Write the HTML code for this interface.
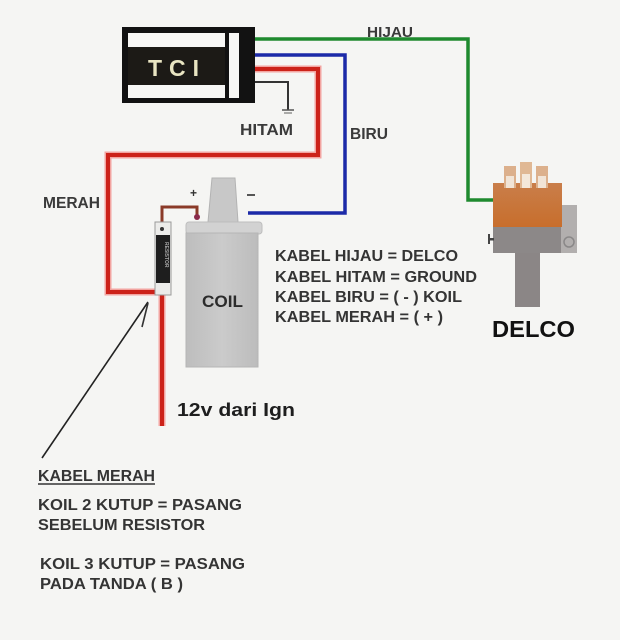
<!DOCTYPE html>
<html><head><meta charset="utf-8"><style>
html,body{margin:0;padding:0;background:#f5f5f3;}
svg{display:block;}
text{font-family:"Liberation Sans",Arial,sans-serif;font-weight:bold;}
</style></head><body>
<svg width="620" height="640" viewBox="0 0 620 640" xmlns="http://www.w3.org/2000/svg">
<rect width="620" height="640" fill="#f5f5f3"/>
<defs>
<linearGradient id="cap" x1="0" y1="0" x2="0" y2="1">
<stop offset="0" stop-color="#c97e4a"/><stop offset="1" stop-color="#c86e2c"/>
</linearGradient>
<linearGradient id="coil" x1="0" y1="0" x2="1" y2="0">
<stop offset="0" stop-color="#bdbdbd"/><stop offset="0.5" stop-color="#cbcbcb"/><stop offset="1" stop-color="#bcbcbc"/>
</linearGradient>
</defs>

<!-- green wire -->
<polyline points="255,39 468,39 468,200 496,200" fill="none" stroke="#1e8a2e" stroke-width="3.5"/>
<!-- blue wire -->
<polyline points="255,55 345,55 345,213 248,213" fill="none" stroke="#1c2aa8" stroke-width="3.5"/>
<!-- red wire -->
<polyline points="255,69 318,69 318,155 108,155 108,292 162,292 162,426" fill="none" stroke="#f2a4a0" stroke-width="7"/>
<polyline points="255,69 318,69 318,155 108,155 108,292 162,292 162,426" fill="none" stroke="#cc2219" stroke-width="4"/>
<!-- black ground wire -->
<polyline points="255,82 288,82 288,110" fill="none" stroke="#333" stroke-width="2"/>
<line x1="282" y1="110" x2="294" y2="110" stroke="#555" stroke-width="1.5"/>
<line x1="284" y1="113" x2="292" y2="113" stroke="#777" stroke-width="1.2"/>

<!-- TCI box -->
<rect x="122" y="27" width="133" height="76" fill="#121212"/>
<rect x="128" y="33" width="97" height="14" fill="#f7f7f5"/>
<rect x="128" y="85" width="97" height="13" fill="#f7f7f5"/>
<rect x="229" y="33" width="10" height="65" fill="#f7f7f5"/>
<rect x="128" y="47" width="97" height="38" fill="#1c1a16"/>
<text x="148" y="76" font-size="23" fill="#e9e5c2" letter-spacing="7">TCI</text>

<!-- HIJAU / HITAM / BIRU / MERAH labels -->
<text x="367" y="37" font-size="15" fill="#3a3a3a" textLength="46" lengthAdjust="spacingAndGlyphs">HIJAU</text>
<text x="240" y="135" font-size="16" fill="#3a3a3a" textLength="53" lengthAdjust="spacingAndGlyphs">HITAM</text>
<text x="350" y="139" font-size="15.5" fill="#3a3a3a" textLength="38" lengthAdjust="spacingAndGlyphs">BIRU</text>
<text x="43" y="208" font-size="15.5" fill="#3a3a3a" textLength="57" lengthAdjust="spacingAndGlyphs">MERAH</text>

<!-- resistor -->
<polyline points="162,228 162,207 197,207 197,217" fill="none" stroke="#8a3a28" stroke-width="3"/>
<rect x="155" y="222" width="16" height="73" fill="#ececea" stroke="#9a9a9a" stroke-width="1"/>
<rect x="156" y="235" width="14" height="48" fill="#1e1e1e"/>
<circle cx="162" cy="229" r="2" fill="#333"/>
<text x="0" y="0" font-size="5" fill="#aaa" transform="translate(165,242) rotate(90)">RESISTOR</text>

<!-- coil -->
<path d="M212,178 L235,178 L238,222 L208,222 Z" fill="#c8c8c8" stroke="#b3b3b3" stroke-width="1"/>
<rect x="186" y="222" width="76" height="12" rx="3" fill="#d2d2d2" stroke="#bdbdbd" stroke-width="1"/>
<rect x="186" y="233" width="72" height="134" fill="url(#coil)" stroke="#b5b5b5" stroke-width="1"/>
<circle cx="197" cy="217" r="3" fill="#8a2a4a"/>
<text x="202" y="307" font-size="17" fill="#2c2c2c" textLength="41" lengthAdjust="spacingAndGlyphs">COIL</text>
<text x="190" y="197" font-size="12" fill="#333">+</text>
<rect x="247" y="194" width="8" height="2" fill="#555"/>

<!-- 12v label -->
<text x="177" y="416" font-size="18" fill="#1e1e1e" textLength="118" lengthAdjust="spacingAndGlyphs">12v dari Ign</text>

<!-- delco -->
<rect x="558" y="205" width="19" height="48" fill="#b2afae"/>
<circle cx="569" cy="242" r="5" fill="none" stroke="#8a8888" stroke-width="1.5"/>
<rect x="515" y="250" width="25" height="57" fill="#8b8686"/>
<rect x="493" y="225" width="68" height="28" fill="#8c8888"/>
<rect x="489" y="238" width="5" height="2.5" fill="#444"/>
<rect x="488" y="234" width="2" height="10" fill="#444"/>
<rect x="493" y="183" width="69" height="44" fill="url(#cap)"/>
<rect x="504" y="166" width="12" height="22" fill="#dcb08c"/>
<rect x="520" y="162" width="12" height="26" fill="#e0b894"/>
<rect x="536" y="166" width="12" height="22" fill="#dcb08c"/>
<rect x="506" y="176" width="8" height="12" fill="#f1e4d6"/>
<rect x="522" y="174" width="8" height="14" fill="#f4e8da"/>
<rect x="538" y="176" width="8" height="12" fill="#f1e4d6"/>
<text x="492" y="337" font-size="23" fill="#111" textLength="83" lengthAdjust="spacingAndGlyphs">DELCO</text>

<!-- legend -->
<g font-size="16" fill="#343434">
<text x="275" y="261" textLength="183" lengthAdjust="spacingAndGlyphs">KABEL HIJAU = DELCO</text>
<text x="275" y="282" textLength="202" lengthAdjust="spacingAndGlyphs">KABEL HITAM = GROUND</text>
<text x="275" y="302" textLength="187" lengthAdjust="spacingAndGlyphs">KABEL BIRU = ( - ) KOIL</text>
<text x="275" y="322" textLength="168" lengthAdjust="spacingAndGlyphs">KABEL MERAH = ( + )</text>
</g>

<!-- arrow -->
<line x1="148" y1="302" x2="42" y2="458" stroke="#222" stroke-width="1.6"/>
<line x1="148" y1="303" x2="142" y2="327" stroke="#333" stroke-width="1.6"/>

<!-- bottom notes -->
<g font-size="16" fill="#343434">
<text x="38" y="481" textLength="117" lengthAdjust="spacingAndGlyphs">KABEL MERAH</text>
<text x="38" y="510" textLength="204" lengthAdjust="spacingAndGlyphs">KOIL 2 KUTUP = PASANG</text>
<text x="38" y="530" textLength="167" lengthAdjust="spacingAndGlyphs">SEBELUM RESISTOR</text>
<text x="40" y="569" textLength="205" lengthAdjust="spacingAndGlyphs">KOIL 3 KUTUP = PASANG</text>
<text x="40" y="589" textLength="143" lengthAdjust="spacingAndGlyphs">PADA TANDA ( B )</text>
</g>
<line x1="38" y1="484" x2="155" y2="484" stroke="#343434" stroke-width="1.5"/>
</svg>
</body></html>
